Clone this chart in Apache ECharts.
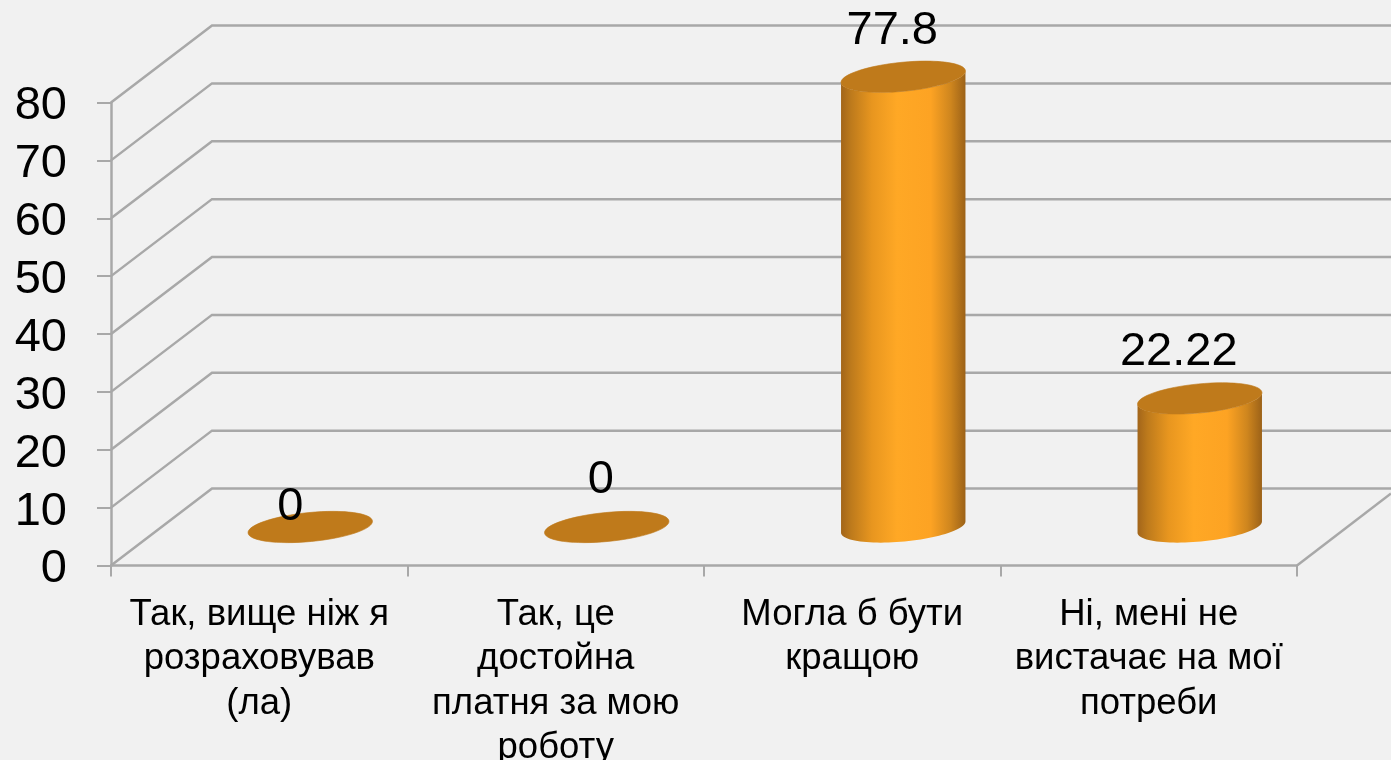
<!DOCTYPE html>
<html><head><meta charset="utf-8">
<style>html,body{margin:0;padding:0;background:#f1f1f1}#c{width:1391px;height:760px}</style>
<script src="https://cdn.jsdelivr.net/npm/echarts@6/dist/echarts.min.js"></script>
</head><body><div id="c"></div>
<script>
const categories = ['Так, вище ніж я\nрозраховував\n(ла)', 'Так, це\nдостойна\nплатня за мою\nроботу', 'Могла б бути\nкращою', 'Ні, мені не\nвистачає на мої\nпотреби'];
const values = [0, 0, 77.8, 22.22];
const valueLabels = ['0', '0', '77.8', '22.22'];
const gridTicks = [0, 10, 20, 30, 40, 50, 60, 70, 80];

// 3D look (styling, not data)
const GREY = '#a8a8a8', DEPTH_X = 101, DEPTH_Y = 77;
const BAR_DX = 51, BAR_DY = 38.5, RX = 62.5, RY = 14.5, TILT = 5.5 * Math.PI / 180;
const labelShift = [[-20, -20], [-6, -47], [-11, -46], [-21, -46]];
const FONT = '"Liberation Sans", Arial, sans-serif';

function ellipsePt(cx, cy, t) {
  const x = RX * Math.cos(t), y = RY * Math.sin(t);
  return [cx + x * Math.cos(TILT) + y * Math.sin(TILT), cy - x * Math.sin(TILT) + y * Math.cos(TILT)];
}
function wallItem(params, api) {
  const cs = params.coordSys, v = api.value(0), y = api.coord([0, v])[1];
  const l = cs.x, r = cs.x + cs.width, W = params.coordSys.x + 1280;
  const children = [{
    type: 'polyline',
    shape: { points: [[l, y], [l + DEPTH_X, y - DEPTH_Y], [W, y - DEPTH_Y]] },
    style: { stroke: GREY, lineWidth: 2.5, fill: null }
  }];
  if (v === 0) children.push({
    type: 'line',
    shape: { x1: r, y1: y, x2: r + 94, y2: y - 72 },
    style: { stroke: GREY, lineWidth: 2.5 }
  });
  return { type: 'group', children };
}
function barItem(params, api) {
  const i = api.value(0), v = api.value(1);
  const top = api.coord([i, v]), base = api.coord([i, 0]);
  const cx = top[0] + BAR_DX, ty = top[1] - BAR_DY, by = base[1] - BAR_DY;
  const pts = [];
  const N = 48;
  for (let k = 0; k <= N; k++) pts.push(ellipsePt(cx, by, Math.PI - Math.PI * k / N));
  for (let k = 0; k <= N; k++) pts.push(ellipsePt(cx, ty, Math.PI * k / N));
  const s = labelShift[i];
  return {
    type: 'group',
    children: [{
      type: 'polygon', shape: { points: pts },
      style: {
        fill: {
          type: 'linear', x: 0, y: 0, x2: 1, y2: 0,
          colorStops: [
            { offset: 0, color: '#a2651a' }, { offset: 0.08, color: '#bd7a1c' },
            { offset: 0.25, color: '#e8961f' }, { offset: 0.45, color: '#ffa825' },
            { offset: 0.72, color: '#fda323' }, { offset: 0.88, color: '#cf861e' },
            { offset: 1, color: '#9c6218' }
          ]
        }
      }
    }, {
      type: 'ellipse',
      shape: { cx: cx, cy: ty, rx: RX, ry: RY },
      originX: cx, originY: ty, rotation: TILT,
      style: { fill: '#bf7a1b', stroke: '#bf7a1b', lineWidth: 0.6 }
    }, {
      type: 'text', z2: 10,
      style: {
        x: cx + s[0], y: ty + s[1], text: valueLabels[i],
        font: '47px ' + FONT, fill: '#000', align: 'center', verticalAlign: 'middle'
      }
    }]
  };
}
const chart = echarts.init(document.getElementById('c'), null, { renderer: 'canvas' });
chart.setOption({
  animation: false,
  backgroundColor: '#f1f1f1',
  grid: { left: 111, right: 94, top: 102.5, bottom: 194.5, outerBoundsMode: 'none', containLabel: false },
  xAxis: {
    type: 'category', data: categories,
    axisLine: { lineStyle: { color: GREY, width: 2.5 } },
    axisTick: { show: true, length: 11, lineStyle: { color: GREY, width: 2 } },
    axisLabel: { color: '#000', fontFamily: FONT, fontSize: 36.5, lineHeight: 44.5, margin: 27, interval: 0 }
  },
  yAxis: {
    type: 'value', min: 0, max: 80, interval: 10,
    axisLine: { show: true, lineStyle: { color: GREY, width: 2.5 } },
    axisTick: { show: true, length: 14, lineStyle: { color: GREY, width: 2 } },
    splitLine: { show: false },
    axisLabel: { color: '#000', fontFamily: FONT, fontSize: 47, margin: 44, verticalAlign: 'top', lineHeight: 8 }
  },
  series: [
    { type: 'custom', renderItem: wallItem, data: gridTicks.map(v => [v]), encode: { y: 0 }, clip: false, silent: true, z: 1 },
    { type: 'custom', renderItem: barItem, data: values.map((v, i) => [i, v]), encode: { x: 0, y: 1 }, clip: false, silent: true, z: 3 }
  ]
});
</script></body></html>
